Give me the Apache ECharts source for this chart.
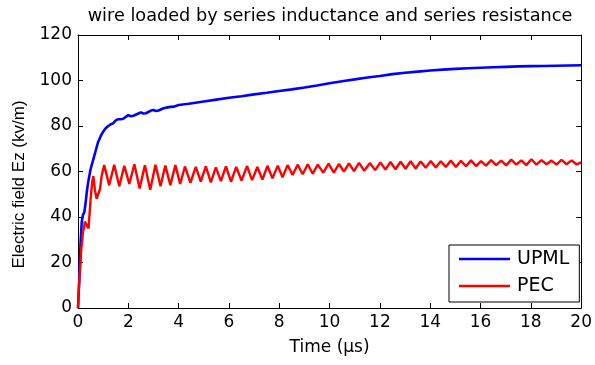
<!DOCTYPE html>
<html>
<head>
<meta charset="utf-8">
<script src="https://cdn.jsdelivr.net/npm/echarts@6/dist/echarts.min.js"></script>
<style>
  html, body { margin: 0; padding: 0; background: #fff; }
  #chart { width: 595px; height: 365px; }
</style>
</head>
<body>
<div id="chart"></div>
<script>
// values, [time (µs), Ez (kV/m)]
const xTicks = [0, 2, 4, 6, 8, 10, 12, 14, 16, 18, 20];
const yTicks = [0, 20, 40, 60, 80, 100, 120];

const upmlPoints = [
  [0, 0], [0.05, 12], [0.1, 28], [0.15, 38], [0.2, 41], [0.25, 42], [0.3, 46], [0.35, 51],
  [0.4, 55], [0.45, 58], [0.5, 61], [0.6, 65], [0.7, 69], [0.8, 73], [0.9, 75.5], [1.0, 77.5],
  [1.1, 79], [1.2, 80], [1.3, 80.7], [1.4, 81.2], [1.5, 82.5], [1.6, 83], [1.7, 83], [1.8, 83.2],
  [1.9, 84], [2.0, 84.8], [2.1, 84.3], [2.2, 84.5], [2.4, 85.5], [2.5, 86], [2.6, 85.5], [2.7, 85.6],
  [2.9, 86.8], [3.0, 87], [3.1, 86.6], [3.2, 86.8], [3.4, 87.8], [3.6, 88.3], [3.8, 88.5], [4.0, 89.2],
  [4.4, 89.8], [5, 90.8], [5.5, 91.6], [6, 92.4], [6.5, 93.1], [7, 93.9], [7.5, 94.6], [8, 95.4],
  [8.5, 96.1], [9, 96.9], [9.5, 97.8], [10, 98.8], [10.5, 99.7], [11, 100.5], [11.5, 101.3], [12, 102.0],
  [12.5, 102.8], [13, 103.4], [13.5, 103.9], [14, 104.4], [14.5, 104.8], [15, 105.1], [15.5, 105.4],
  [16, 105.6], [16.5, 105.8], [17, 106], [17.5, 106.2], [18, 106.3], [18.5, 106.4], [19, 106.5],
  [19.5, 106.6], [20, 106.7]
];

const pecPoints = [
  [0, 0], [0.03, 8], [0.06, 14], [0.1, 20], [0.13, 26], [0.17, 30], [0.2, 34], [0.24, 35],
  [0.27, 38], [0.32, 37], [0.36, 36], [0.42, 35], [0.47, 43], [0.51, 49], [0.56, 55], [0.61, 58],
  [0.67, 52], [0.74, 48], [0.8, 50], [0.87, 52], [0.94, 58],
  [1.04, 62.8], [1.24, 54.0], [1.44, 63.0], [1.64, 53.5], [1.84, 62.5], [2.04, 54.5], [2.24, 63.2],
  [2.45, 52.5], [2.66, 62.8], [2.87, 52.0], [3.08, 63.0], [3.28, 53.5], [3.47, 62.6], [3.67, 54.0],
  [3.87, 62.8], [4.06, 54.5], [4.25, 62.2], [4.47, 55.0], [4.68, 62.0], [4.88, 55.5], [5.08, 62.3],
  [5.28, 55.2], [5.48, 61.8], [5.68, 55.8], [5.88, 62.2], [6.08, 55.5], [6.29, 62.0], [6.5, 56.0],
  [6.72, 62.4], [6.92, 56.2], [7.13, 62.0], [7.33, 56.5], [7.53, 62.5], [7.73, 57.0], [7.94, 62.6],
  [8.13, 57.5], [8.33, 62.8], [8.53, 58.5], [8.73, 63.0], [8.93, 58.8], [9.13, 63.2], [9.33, 59.0],
  [9.53, 63.0], [9.75, 59.5], [9.96, 63.5], [10.17, 59.5], [10.37, 63.3], [10.57, 60.0], [10.77, 63.6],
  [10.97, 60.2], [11.17, 63.8], [11.38, 60.3], [11.6, 63.7], [11.81, 60.6], [12.02, 64.0], [12.22, 60.8],
  [12.42, 64.2], [12.62, 61.0], [12.82, 64.3], [13.02, 61.2], [13.22, 64.5], [13.42, 61.3], [13.62, 64.4],
  [13.82, 61.6], [14.02, 64.6], [14.22, 61.8], [14.42, 64.5], [14.62, 62.0], [14.82, 64.8], [15.02, 62.0],
  [15.22, 64.7], [15.42, 62.3], [15.62, 64.9], [15.82, 62.4], [16.02, 64.6], [16.22, 62.6], [16.42, 65.0],
  [16.62, 62.8], [16.82, 64.8], [17.02, 62.7], [17.22, 65.2], [17.42, 63.0], [17.62, 64.9], [17.82, 62.8],
  [18.02, 65.4], [18.22, 63.0], [18.42, 65.0], [18.62, 63.2], [18.82, 64.8], [19.02, 63.0], [19.22, 65.1],
  [19.42, 63.2], [19.62, 64.9], [19.82, 63.1], [20, 64.0]
];

// horizontal text in the original is rendered wide, so DejaVu fits it better
const WIDE_FONT = "'DejaVu Sans', sans-serif";
const FONT = "'Liberation Sans', Arial, sans-serif";

function boxAxis(ticks, position, showLabels) {
  return {
    type: "value",
    position,
    min: ticks[0],
    max: ticks[ticks.length - 1],
    interval: ticks[1] - ticks[0],
    axisLine: { show: true, onZero: false, lineStyle: { color: "#000", width: 1 } },
    axisTick: { show: true, inside: true, length: 5, lineStyle: { color: "#000" } },
    axisLabel: { show: showLabels, color: "#000", fontSize: 17, fontFamily: WIDE_FONT, margin: 6 },
    splitLine: { show: false }
  };
}

const chart = echarts.init(document.getElementById("chart"), null, { renderer: "canvas" });

chart.setOption({
  backgroundColor: "#fff",
  animation: false,
  title: {
    text: "wire loaded by series inductance and series resistance",
    left: 325,
    textAlign: "center",
    top: 2,
    textStyle: { color: "#000", fontSize: 17.7, fontWeight: "normal", fontFamily: WIDE_FONT }
  },
  grid: { left: 78, right: 12, top: 35, bottom: 57 },
  xAxis: [
    {
      ...boxAxis(xTicks, "bottom", true),
      name: "Time (µs)",
      nameLocation: "middle",
      nameGap: 31,
      nameTextStyle: { color: "#000", fontSize: 17, fontFamily: WIDE_FONT, verticalAlign: "top" }
    },
    boxAxis(xTicks, "top", false)
  ],
  yAxis: [
    {
      ...boxAxis(yTicks, "left", true),
      name: "Electric field Ez (kv/m)",
      nameLocation: "middle",
      nameGap: 50,
      nameTextStyle: { color: "#000", fontSize: 17, fontFamily: FONT, padding: [0, 26, 0, 0] }
    },
    boxAxis(yTicks, "right", false)
  ],
  legend: {
    orient: "vertical",
    left: 449,
    top: 245,
    padding: [4, 10, 6, 10],
    itemGap: 7,
    itemWidth: 51,
    itemHeight: 2.5,
    icon: "rect",
    borderColor: "#000",
    borderWidth: 1,
    borderRadius: 0,
    backgroundColor: "#fff",
    textStyle: { color: "#000", fontSize: 19, fontFamily: WIDE_FONT, lineHeight: 20, padding: [0, 0, 0, 2] },
    data: ["UPML", "PEC"]
  },
  series: [
    {
      name: "UPML",
      type: "line",
      symbol: "none",
      data: upmlPoints,
      lineStyle: { color: "#0000ff", width: 2.6 },
      itemStyle: { color: "#0000ff" }
    },
    {
      name: "PEC",
      type: "line",
      symbol: "none",
      data: pecPoints,
      lineStyle: { color: "#ff0000", width: 2.4 },
      itemStyle: { color: "#ff0000" }
    }
  ]
});
</script>
</body>
</html>
